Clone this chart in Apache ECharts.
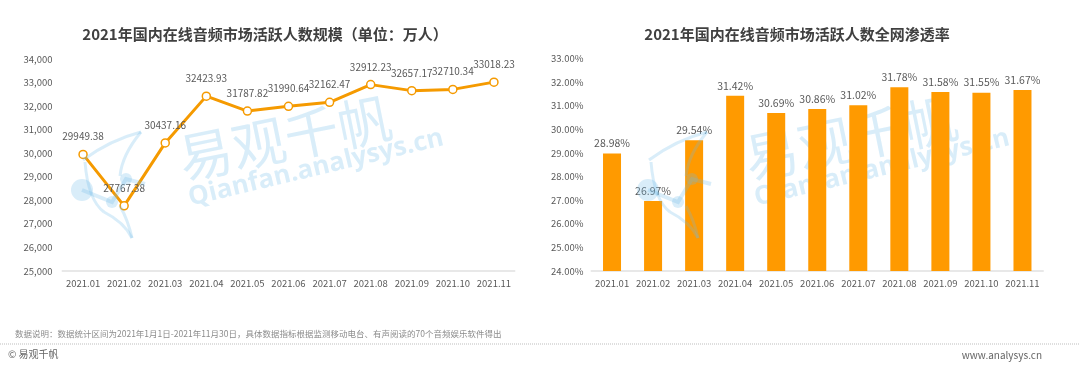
<!DOCTYPE html>
<html><head><meta charset="utf-8">
<script src="https://cdn.jsdelivr.net/npm/echarts@6/dist/echarts.min.js"></script>
<style>html,body{margin:0;padding:0;background:#fff}#c{width:1080px;height:366px}</style>
</head><body><div id="c"></div>
<script>
const categories = ['2021.01','2021.02','2021.03','2021.04','2021.05','2021.06','2021.07','2021.08','2021.09','2021.10','2021.11'];
const activeUsers = [29949.38,27767.38,30437.16,32423.93,31787.82,31990.64,32162.47,32912.23,32657.17,32710.34,33018.23];
const penetration = [28.98,26.97,29.54,31.42,30.69,30.86,31.02,31.78,31.58,31.55,31.67];
const leftTitle = '2021年国内在线音频市场活跃人数规模（单位：万人）';
const rightTitle = '2021年国内在线音频市场活跃人数全网渗透率';
const note = '数据说明：数据统计区间为2021年1月1日-2021年11月30日，具体数据指标根据监测移动电台、有声阅读的70个音频娱乐软件得出';

const FONT = '"Noto Sans CJK SC", "Noto Sans", sans-serif';
const labelColor = '#595959';
const wm = 'rgba(110,185,230,0.26)';

function curve(dx, x1, y1, cx, cy, x2, y2){
  return {type:'bezierCurve', shape:{x1:x1+dx, y1:y1, cpx1:cx+dx, cpy1:cy, x2:x2+dx, y2:y2}, style:{stroke:wm, lineWidth:3, fill:null}, z:100};
}
function watermark(dx){
  return [
    {type:'group', x:285+dx, y:138, rotation:0.2, z:100, children:[
      {type:'text', style:{text:'易观千帆', x:0, y:0, align:'center', verticalAlign:'middle', fontSize:54, fontFamily:FONT, fill:wm}}
    ]},
    {type:'group', x:316+dx, y:168, rotation:0.235, z:100, children:[
      {type:'text', style:{text:'Qianfan.analysys.cn', x:0, y:0, align:'center', verticalAlign:'middle', fontSize:26, fontWeight:'bold', fontFamily:'"Open Sans", sans-serif', fill:wm}}
    ]},
    {type:'circle', shape:{cx:82+dx, cy:190, r:11}, style:{fill:wm}, z:100},
    {type:'circle', shape:{cx:112+dx, cy:202, r:6}, style:{fill:wm}, z:100},
    {type:'circle', shape:{cx:126+dx, cy:179, r:6}, style:{fill:wm}, z:100},
    {type:'polyline', shape:{points:[[82+dx,190],[112+dx,202],[126+dx,179],[145+dx,184]]}, style:{stroke:wm, lineWidth:4, fill:null}, z:100},
    curve(dx, 83,160, 110,140, 141,132),
    curve(dx, 141,132, 122,155, 120,176),
    curve(dx, 85,162, 88,200, 104,212),
    curve(dx, 104,212, 124,222, 132,238),
    curve(dx, 132,238, 128,220, 120,206)
  ];
}

const chart = echarts.init(document.getElementById('c'));
chart.setOption({
  backgroundColor:'#fff',
  animation:false,
  textStyle:{fontFamily:FONT},
  title:[
    {text:leftTitle, left:260, top:22, textAlign:'center', textStyle:{fontSize:15, fontWeight:'bold', color:'#404040', fontFamily:FONT}},
    {text:rightTitle, left:792, top:22, textAlign:'center', textStyle:{fontSize:15, fontWeight:'bold', color:'#404040', fontFamily:FONT}}
  ],
  grid:[
    {left:62.5, right:565.5, top:59, bottom:95},
    {left:591.5, right:37, top:58.5, bottom:95}
  ],
  xAxis:[
    {type:'category', gridIndex:0, data:categories, axisTick:{show:false}, axisLine:{lineStyle:{color:'#e8e8e8', width:2}}, axisLabel:{color:labelColor, fontSize:9.5, margin:8, interval:0}},
    {type:'category', gridIndex:1, data:categories, axisTick:{show:false}, axisLine:{lineStyle:{color:'#e8e8e8', width:2}}, axisLabel:{color:labelColor, fontSize:9.5, margin:8, interval:0}}
  ],
  yAxis:[
    {type:'value', gridIndex:0, min:25000, max:34000, interval:1000, splitLine:{show:false}, axisLine:{show:false}, axisTick:{show:false},
     axisLabel:{color:labelColor, fontSize:9.5, margin:10, formatter:v=>v.toLocaleString('en-US')}},
    {type:'value', gridIndex:1, min:24, max:33, interval:1, splitLine:{show:false}, axisLine:{show:false}, axisTick:{show:false},
     axisLabel:{color:labelColor, fontSize:9.5, margin:8, formatter:v=>v.toFixed(2)+'%'}}
  ],
  series:[
    {type:'line', xAxisIndex:0, yAxisIndex:0, data:activeUsers, symbol:'circle', symbolSize:8,
     lineStyle:{color:'#F59A00', width:3}, itemStyle:{color:'#fff', borderColor:'#F59A00', borderWidth:1.5},
     label:{show:true, position:'top', distance:8, color:labelColor, fontSize:10, formatter:p=>p.value.toFixed(2)}, z:3},
    {type:'bar', xAxisIndex:1, yAxisIndex:1, data:penetration, barWidth:18, itemStyle:{color:'#FF9A00'},
     label:{show:true, position:'top', distance:5, color:labelColor, fontSize:10.5, formatter:p=>p.value.toFixed(2)+'%'}}
  ],
  graphic:[
    ...watermark(0), ...watermark(566),
    {type:'text', style:{text:note, x:15, y:334, verticalAlign:'middle', fontSize:8.5, fontFamily:FONT, fill:'#8c8c8c'}},
    {type:'line', shape:{x1:0, y1:344, x2:1080, y2:344}, style:{stroke:'#bdbdbd', lineWidth:1, lineDash:[1,1]}},
    {type:'text', style:{text:'© 易观千帆', x:8, y:354, verticalAlign:'middle', fontSize:10, fontFamily:FONT, fill:'#666'}},
    {type:'text', style:{text:'www.analysys.cn', x:1042, y:355, align:'right', verticalAlign:'middle', fontSize:10, fontFamily:FONT, fill:'#666'}}
  ]
});
</script></body></html>
